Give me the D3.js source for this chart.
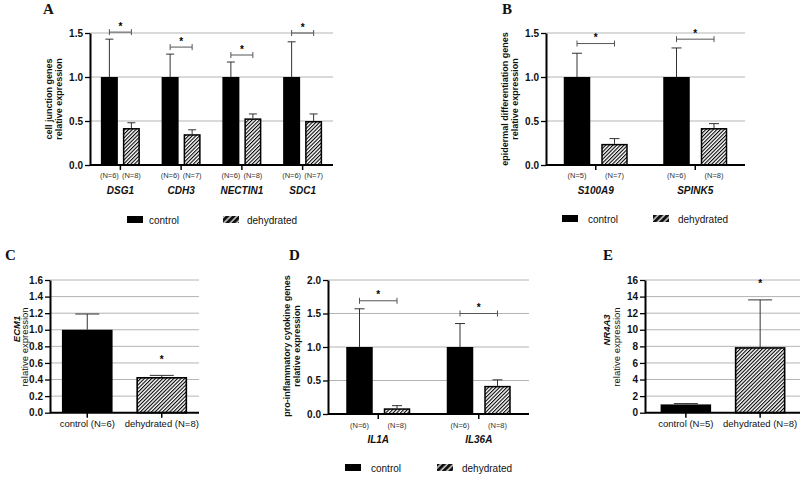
<!DOCTYPE html>
<html>
<head>
<meta charset="utf-8">
<script src="https://cdn.jsdelivr.net/npm/d3@7"></script>
<style>
  html, body { margin: 0; padding: 0; background: #fff; }
  svg { display: block; font-family: "Liberation Sans", Arial, sans-serif; }
</style>
</head>
<body>
<svg id="chart" width="800" height="477"></svg>
<script>
// ---------------- DATA ----------------
// Panel A: cell junction genes
const genesA = ["DSG1", "CDH3", "NECTIN1", "SDC1"];
const ctrlA = [1.0, 1.0, 1.0, 1.0];
const ctrlErrA = [1.43, 1.26, 1.17, 1.40];
const dehyA = [0.42, 0.35, 0.53, 0.50];
const dehyErrA = [0.48, 0.40, 0.58, 0.58];
const nCtrlA = ["(N=6)", "(N=6)", "(N=6)", "(N=6)"];
const nDehyA = ["(N=8)", "(N=7)", "(N=8)", "(N=7)"];
const sigA = [1.51, 1.34, 1.25, 1.50];
const ticksA = [0, 0.5, 1.0, 1.5];

// Panel B: epidermal differentiation genes
const genesB = ["S100A9", "SPINK5"];
const ctrlB = [1.0, 1.0];
const ctrlErrB = [1.27, 1.33];
const dehyB = [0.24, 0.42];
const dehyErrB = [0.30, 0.47];
const nCtrlB = ["(N=5)", "(N=6)"];
const nDehyB = ["(N=7)", "(N=8)"];
const sigB = [1.38, 1.43];
const ticksB = [0, 0.5, 1.0, 1.5];

// Panel C: ECM1
const groupsC = ["control (N=6)", "dehydrated (N=8)"];
const valuesC = [1.0, 0.43];
const errC = [1.19, 0.45];
const starC = 0.66;
const ticksC = [0, 0.2, 0.4, 0.6, 0.8, 1.0, 1.2, 1.4, 1.6];

// Panel D: pro-inflammatory cytokine genes
const genesD = ["IL1A", "IL36A"];
const ctrlD = [1.0, 1.0];
const ctrlErrD = [1.57, 1.35];
const dehyD = [0.085, 0.42];
const dehyErrD = [0.125, 0.51];
const nCtrlD = ["(N=6)", "(N=6)"];
const nDehyD = ["(N=8)", "(N=8)"];
const sigD = [1.69, 1.50];
const ticksD = [0, 0.5, 1.0, 1.5, 2.0];

// Panel E: NR4A3
const groupsE = ["control (N=5)", "dehydrated (N=8)"];
const valuesE = [1.0, 7.9];
const errE = [1.1, 13.6];
const starE = 15.8;
const ticksE = [0, 2, 4, 6, 8, 10, 12, 14, 16];

const legendLabels = ["control", "dehydrated"];

// ---------------- DRAWING ----------------
const FONT = "'Liberation Sans', Arial, sans-serif";
const svg = d3.select("#chart");
const defs = svg.append("defs");

// hatch for bars
const hp = defs.append("pattern")
  .attr("id", "hatch").attr("patternUnits", "userSpaceOnUse")
  .attr("width", 2.6).attr("height", 10)
  .attr("patternTransform", "rotate(45)");
hp.append("rect").attr("width", 2.6).attr("height", 10).attr("fill", "#fff");
hp.append("line").attr("x1", 0.5).attr("y1", 0).attr("x2", 0.5).attr("y2", 10)
  .attr("stroke", "#000").attr("stroke-width", 1.2);

// hatch for legend swatch (black with white slashes)
const lp = defs.append("pattern")
  .attr("id", "hatchLegend").attr("patternUnits", "userSpaceOnUse")
  .attr("width", 4.5).attr("height", 10)
  .attr("patternTransform", "rotate(45)");
lp.append("rect").attr("width", 4.5).attr("height", 10).attr("fill", "#111");
lp.append("line").attr("x1", 1).attr("y1", 0).attr("x2", 1).attr("y2", 10)
  .attr("stroke", "#fff").attr("stroke-width", 1.2);

const GRID = "#b4b4b4";
const ERR = "#333";
const BRACKET = "#555";

function panelLetter(txt, x, y) {
  svg.append("text").attr("x", x).attr("y", y)
    .attr("font-family", "'Liberation Serif', 'Times New Roman', serif")
    .attr("font-weight", "bold").attr("font-size", 15).attr("fill", "#111")
    .text(txt);
}

function yTitle(lines, xs, yc, opts) {
  lines.forEach((ln, i) => {
    const o = opts[i];
    svg.append("text")
      .attr("transform", `translate(${xs[i]},${o.yc !== undefined ? o.yc : yc}) rotate(-90)`)
      .attr("text-anchor", "middle").attr("dy", "0.35em")
      .attr("font-family", FONT)
      .attr("font-size", o.size).attr("font-weight", o.weight)
      .attr("font-style", o.style || "normal").attr("fill", "#111")
      .text(ln);
  });
}

function drawYAxis(g, y, x0, ticks, fmt) {
  const ax = d3.axisLeft(y).tickValues(ticks).tickSize(5).tickSizeOuter(0).tickPadding(2)
    .tickFormat(fmt);
  const a = g.append("g").attr("transform", `translate(${x0},0)`).call(ax);
  a.attr("font-family", FONT);
  a.select(".domain").attr("stroke", "#000").attr("stroke-width", 2);
  a.selectAll(".tick line").attr("stroke", "#000").attr("stroke-width", 1.3);
  a.selectAll(".tick text").attr("font-size", 10).attr("font-weight", "bold")
    .attr("fill", "#111").attr("font-family", FONT);
}

function gridlines(g, y, ticks, x0, x1) {
  g.selectAll(null).data(ticks.filter(t => t > 0)).enter().append("line")
    .attr("x1", x0).attr("x2", x1)
    .attr("y1", d => y(d)).attr("y2", d => y(d))
    .attr("stroke", GRID).attr("stroke-width", 1);
}

function errorBar(g, cx, yTop, yErr, cap) {
  g.append("line").attr("x1", cx).attr("x2", cx).attr("y1", yTop).attr("y2", yErr)
    .attr("stroke", ERR).attr("stroke-width", 1);
  g.append("line").attr("x1", cx - cap / 2).attr("x2", cx + cap / 2).attr("y1", yErr).attr("y2", yErr)
    .attr("stroke", ERR).attr("stroke-width", 1);
}

function star(g, cx, cy) {
  g.append("text").attr("x", cx).attr("y", cy + 5.5).attr("text-anchor", "middle")
    .attr("font-family", FONT).attr("font-weight", "bold")
    .attr("font-size", 10).attr("fill", "#000").text("*");
}

function legend(g, pos, y) {
  g.append("rect").attr("x", pos[0]).attr("y", y).attr("width", 16).attr("height", 7).attr("fill", "#000");
  g.append("text").attr("x", pos[1]).attr("y", y + 7.5).attr("font-family", FONT)
    .attr("font-size", 10).attr("fill", "#111").text(legendLabels[0]);
  g.append("rect").attr("x", pos[2]).attr("y", y).attr("width", 16).attr("height", 7).attr("fill", "url(#hatchLegend)");
  g.append("text").attr("x", pos[3]).attr("y", y + 7.5).attr("font-family", FONT)
    .attr("font-size", 10).attr("fill", "#111").text(legendLabels[1]);
}

function groupedPanel(c) {
  const g = svg.append("g");
  const y = d3.scaleLinear().domain([0, c.yMax]).range(c.yRange);
  const x = d3.scaleBand().domain(c.genes).range(c.xRange).padding(0);
  const y0 = y(0);
  gridlines(g, y, c.ticks, c.xRange[0], c.xRange[1]);

  c.genes.forEach((gene, i) => {
    const cx = x(gene) + x.bandwidth() / 2;
    const xc = cx - c.gap / 2 - c.bw, xd = cx + c.gap / 2;
    g.append("rect").attr("x", xc).attr("y", y(c.ctrl[i])).attr("width", c.bw)
      .attr("height", y0 - y(c.ctrl[i])).attr("fill", "#000");
    errorBar(g, xc + c.bw / 2, y(c.ctrl[i]), y(c.ctrlErr[i]), c.cap);
    g.append("rect").attr("x", xd + 0.75).attr("y", y(c.dehy[i]) + 0.75).attr("width", c.bw - 1.5)
      .attr("height", y0 - y(c.dehy[i]) - 0.75).attr("fill", "url(#hatch)")
      .attr("stroke", "#000").attr("stroke-width", 1.5);
    errorBar(g, xd + c.bw / 2, y(c.dehy[i]), y(c.dehyErr[i]), c.cap);
    const bx0 = xc + c.bw / 2, bx1 = xd + c.bw / 2, by = y(c.sig[i]);
    g.append("line").attr("x1", bx0).attr("x2", bx1).attr("y1", by).attr("y2", by)
      .attr("stroke", BRACKET).attr("stroke-width", 1);
    [bx0, bx1].forEach(bx => g.append("line").attr("x1", bx).attr("x2", bx)
      .attr("y1", by - 3).attr("y2", by + 3).attr("stroke", BRACKET).attr("stroke-width", 1));
    star(g, cx, by - 8);
    g.append("text").attr("x", xc + c.bw / 2).attr("y", c.nY).attr("text-anchor", "middle")
      .attr("font-family", FONT).attr("font-size", 7.5).attr("fill", "#333").text(c.nC[i]);
    g.append("text").attr("x", xd + c.bw / 2).attr("y", c.nY).attr("text-anchor", "middle")
      .attr("font-family", FONT).attr("font-size", 7.5).attr("fill", "#333").text(c.nD[i]);
    g.append("text").attr("x", cx).attr("y", c.geneY).attr("text-anchor", "middle")
      .attr("font-family", FONT).attr("font-size", 10).attr("font-weight", "bold").attr("font-style", "italic")
      .attr("fill", "#111").text(gene);
    g.append("line").attr("x1", cx).attr("x2", cx).attr("y1", y0).attr("y2", y0 + 5)
      .attr("stroke", "#000").attr("stroke-width", 1.5);
  });

  g.append("line").attr("x1", c.xRange[0]).attr("x2", c.xRange[1]).attr("y1", y0).attr("y2", y0)
    .attr("stroke", "#000").attr("stroke-width", 2);
  drawYAxis(g, y, c.xRange[0], c.ticks, d3.format(".1f"));
  legend(g, c.legendX, c.legendY);
}

function simplePanel(c) {
  const g = svg.append("g");
  const y = d3.scaleLinear().domain([0, c.yMax]).range(c.yRange);
  const x = d3.scaleBand().domain(c.groups).range(c.xRange).paddingInner(c.pi).paddingOuter(c.po);
  const y0 = y(0);
  gridlines(g, y, c.ticks, c.xRange[0], c.gridEnd);
  c.groups.forEach((grp, i) => {
    const bx = x(grp), bw = x.bandwidth();
    if (i === 0) {
      g.append("rect").attr("x", bx).attr("y", y(c.values[i])).attr("width", bw)
        .attr("height", y0 - y(c.values[i])).attr("fill", "#000");
    } else {
      g.append("rect").attr("x", bx + 0.75).attr("y", y(c.values[i]) + 0.75).attr("width", bw - 1.5)
        .attr("height", y0 - y(c.values[i]) - 0.75).attr("fill", "url(#hatch)")
        .attr("stroke", "#000").attr("stroke-width", 1.6);
    }
    errorBar(g, bx + bw / 2, y(c.values[i]), y(c.err[i]), c.cap);
    g.append("line").attr("x1", bx + bw / 2).attr("x2", bx + bw / 2).attr("y1", y0).attr("y2", y0 + 5)
      .attr("stroke", "#000").attr("stroke-width", 1.5);
    g.append("text").attr("x", bx + bw / 2).attr("y", c.labelY).attr("text-anchor", "middle")
      .attr("font-family", FONT).attr("font-size", 9.5).attr("fill", "#111").text(grp);
  });
  star(g, x(c.groups[1]) + x.bandwidth() / 2, y(c.star));
  g.append("line").attr("x1", c.xRange[0]).attr("x2", c.gridEnd).attr("y1", y0).attr("y2", y0)
    .attr("stroke", "#000").attr("stroke-width", 2);
  drawYAxis(g, y, c.xRange[0], c.ticks, c.fmt);
}

// ---- Panel A ----
panelLetter("A", 43, 14);
groupedPanel({
  genes: genesA, ctrl: ctrlA, ctrlErr: ctrlErrA, dehy: dehyA, dehyErr: dehyErrA,
  nC: nCtrlA, nD: nDehyA, sig: sigA, ticks: ticksA, yMax: 1.5,
  yRange: [165, 33], xRange: [90, 333], bw: 17, gap: 5, cap: 8,
  nY: 177.5, geneY: 194, legendX: [127, 149, 223, 247], legendY: 216
});
yTitle(["cell junction genes", "relative expression"], [48.7, 58.5], 99,
  [{ size: 9, weight: "bold" }, { size: 9, weight: "bold" }]);

// ---- Panel B ----
panelLetter("B", 502, 14);
groupedPanel({
  genes: genesB, ctrl: ctrlB, ctrlErr: ctrlErrB, dehy: dehyB, dehyErr: dehyErrB,
  nC: nCtrlB, nD: nDehyB, sig: sigB, ticks: ticksB, yMax: 1.5,
  yRange: [165, 33], xRange: [546, 745], bw: 26.5, gap: 11, cap: 10,
  nY: 177.5, geneY: 194, legendX: [562, 588, 653, 678], legendY: 215
});
yTitle(["epidermal differentiation genes", "relative expression"], [505.3, 515.3], 99,
  [{ size: 9, weight: "bold" }, { size: 9, weight: "bold" }]);

// ---- Panel C ----
panelLetter("C", 5, 260);
simplePanel({
  groups: groupsC, values: valuesC, err: errC, star: starC, ticks: ticksC, yMax: 1.6,
  yRange: [412.7, 280], xRange: [50, 199], gridEnd: 199, pi: 0.32, po: 0.16, cap: 24,
  labelY: 427, fmt: d3.format(".1f")
});
yTitle(["ECM1", "relative expression"], [16.5, 25], 346,
  [{ size: 9.5, weight: "bold", style: "italic", yc: 329 }, { size: 9.5, weight: "normal", yc: 347 }]);

// ---- Panel D ----
panelLetter("D", 289, 260);
groupedPanel({
  genes: genesD, ctrl: ctrlD, ctrlErr: ctrlErrD, dehy: dehyD, dehyErr: dehyErrD,
  nC: nCtrlD, nD: nDehyD, sig: sigD, ticks: ticksD, yMax: 2.0,
  yRange: [414, 280], xRange: [328, 529], bw: 26.5, gap: 11, cap: 10,
  nY: 427.5, geneY: 443, legendX: [345, 371, 437, 462], legendY: 464
});
yTitle(["pro-inflammatory cytokine genes", "relative expression"], [287, 296.7], 346,
  [{ size: 9, weight: "bold" }, { size: 9, weight: "bold" }]);

// ---- Panel E ----
panelLetter("E", 603, 260);
simplePanel({
  groups: groupsE, values: valuesE, err: errE, star: starE, ticks: ticksE, yMax: 16,
  yRange: [412.7, 280], xRange: [645, 801], gridEnd: 801, pi: 0.32, po: 0.21, cap: 24,
  labelY: 427, fmt: d3.format("d")
});
yTitle(["NR4A3", "relative expression"], [606.7, 617], 346,
  [{ size: 9.5, weight: "bold", style: "italic", yc: 330 }, { size: 9.5, weight: "normal", yc: 347 }]);
</script>
</body>
</html>
